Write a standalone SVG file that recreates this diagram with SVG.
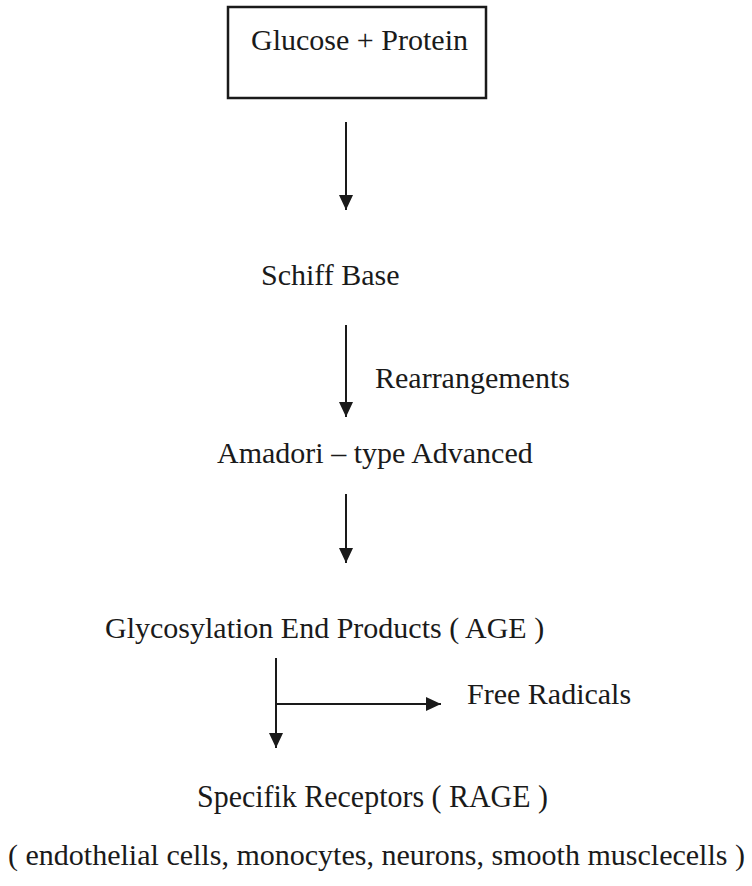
<svg xmlns="http://www.w3.org/2000/svg" width="752" height="886" viewBox="0 0 752 886">
<style>
text { font-family: "Liberation Serif", "Times New Roman", serif; font-size: 30px; fill: #1a1a1a; }
.tall { font-size: 32px; }
.wide { font-size: 29.4px; }
.conn line { stroke: #1a1a1a; stroke-width: 2; fill: none; }
.box { fill: #fff; stroke: #1a1a1a; stroke-width: 2.5; }
</style>
<defs>
<marker id="ah" markerUnits="userSpaceOnUse" markerWidth="16" markerHeight="16" viewBox="0 0 16 16" refX="15" refY="8" orient="auto">
<path d="M0,1 L15,8 L0,15 Z" fill="#1a1a1a"/>
</marker>
</defs>
<rect width="752" height="886" fill="#fff"/>
<g id="glucose-protein">
<rect class="box" x="228" y="7" width="258" height="91"/>
<text x="251" y="50" textLength="217" lengthAdjust="spacingAndGlyphs">Glucose + Protein</text>
</g>
<g id="schiff-base">
<text x="261" y="285">Schiff Base</text>
</g>
<g id="rearrangements">
<text x="375" y="388">Rearrangements</text>
</g>
<g id="amadori">
<text x="217" y="463">Amadori – type Advanced</text>
</g>
<g id="age">
<text x="105" y="638">Glycosylation End Products ( AGE )</text>
</g>
<g id="free-radicals">
<text x="467" y="704">Free Radicals</text>
</g>
<g id="rage">
<text class="tall" x="197" y="807" textLength="351" lengthAdjust="spacingAndGlyphs">Specifik Receptors ( RAGE )</text>
</g>
<g id="cells">
<text class="wide" x="8" y="865" textLength="737" lengthAdjust="spacingAndGlyphs">( endothelial cells, monocytes, neurons, smooth musclecells )</text>
</g>
<g class="conn" id="connectors">
<line x1="346" y1="122" x2="346" y2="210" marker-end="url(#ah)"/>
<line x1="346" y1="325" x2="346" y2="417" marker-end="url(#ah)"/>
<line x1="346" y1="494" x2="346" y2="563" marker-end="url(#ah)"/>
<line x1="276" y1="658" x2="276" y2="748" marker-end="url(#ah)"/>
<line x1="276" y1="704" x2="441" y2="704" marker-end="url(#ah)"/>
</g>
</svg>
